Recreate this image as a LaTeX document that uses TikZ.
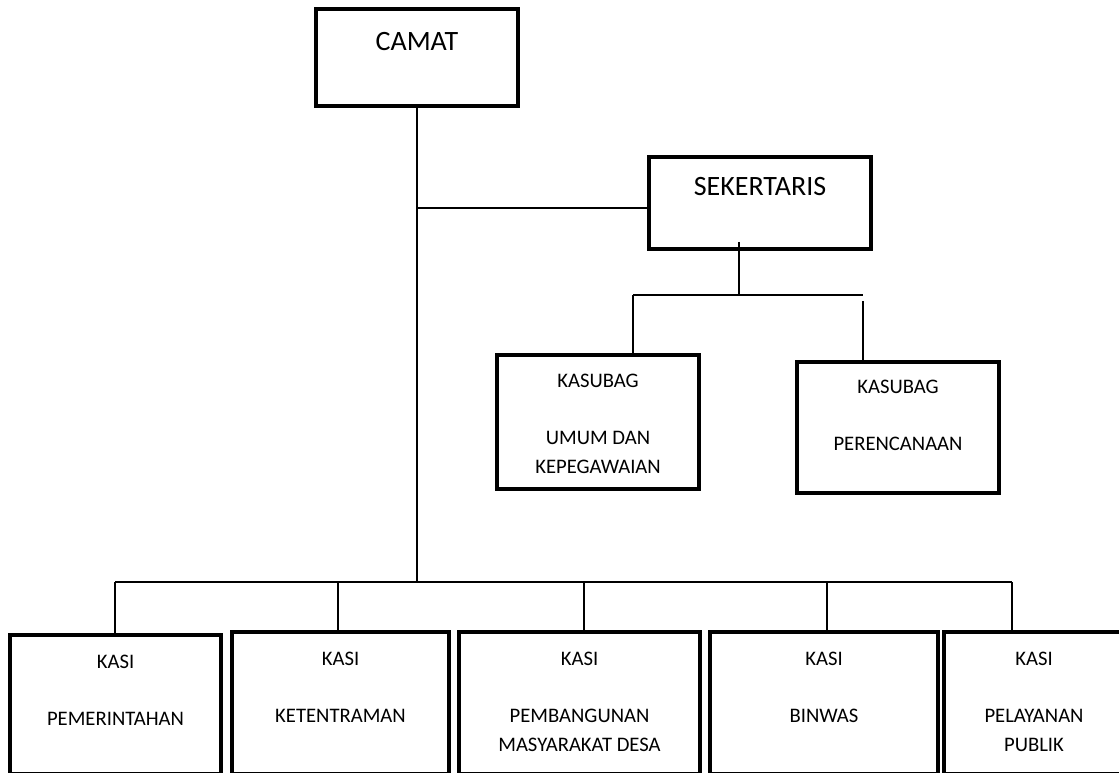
\documentclass[tikz,border=0pt]{standalone}
\usepackage{fontspec}
\setmainfont{Carlito}
\usetikzlibrary{positioning}

\begin{document}
\begin{tikzpicture}[
    x=0.75pt, y=-0.75pt, node distance=16.5pt,
    unit/.style={draw, rectangle, line width=3.2pt, inner sep=0pt},
    bigtxt/.style={inner sep=0pt, outer sep=0pt,
                   font=\fontsize{21}{26}\selectfont},
    smalltxt/.style={inner sep=0pt, outer sep=0pt, align=center,
                     font=\fontsize{15.5}{22}\selectfont},
    link/.style={line width=1.2pt}
  ]
  \useasboundingbox (0,0) rectangle (1119,773);
  \clip (0,0) rectangle (1119,773);

  % camat and sekertaris
  \node[unit, minimum width=151.3pt, minimum height=72.5pt] (camat) at (417,57.5) {};
  \node[bigtxt, below=18.75pt of camat.north] (camatlbl) {CAMAT};
  \node[unit, minimum width=166.3pt, minimum height=68.8pt] (sekr) at (760,203) {};
  \node[bigtxt, below=of sekr.north] (sekrlbl) {SEKERTARIS};

  % kasubag
  \node[unit, minimum width=151.3pt, minimum height=100.3pt] (umum) at (598,422) {};
  \node[smalltxt, below=15.75pt of umum.north] (umumlbl)
    {KASUBAG\\[20.5pt]UMUM DAN\\KEPEGAWAIAN};
  \node[unit, minimum width=151.3pt, minimum height=98pt] (renc) at (898,427.5) {};
  \node[smalltxt, below=15pt of renc.north] (renclbl)
    {KASUBAG\\[20.5pt]PERENCANAAN};

  % kasi row
  \node[unit, minimum width=158pt, minimum height=104.6pt] (pem) at (115.5,704.85) {};
  \node[smalltxt, below=of pem.north] (pemlbl) {KASI\\[20.5pt]PEMERINTAHAN};
  \node[unit, minimum width=162.5pt, minimum height=106.8pt] (tram) at (340.5,703.35) {};
  \node[smalltxt, below=of tram.north] (tramlbl) {KASI\\[20.5pt]KETENTRAMAN};
  \node[unit, minimum width=180.5pt, minimum height=106.8pt] (bang) at (579.5,703.35) {};
  \node[smalltxt, below=of bang.north] (banglbl)
    {KASI\\[20.5pt]PEMBANGUNAN\\MASYARAKAT DESA};
  \node[unit, minimum width=170.8pt, minimum height=106.8pt] (binw) at (824,703.35) {};
  \node[smalltxt, below=of binw.north] (binwlbl) {KASI\\[20.5pt]BINWAS};
  \node[unit, minimum width=134.8pt, minimum height=106.8pt] (lay) at (1034,703.35) {};
  \node[smalltxt, below=of lay.north] (laylbl) {KASI\\[20.5pt]PELAYANAN\\PUBLIK};

  % lines
  \coordinate (trunkend) at (417,582);
  \coordinate (sekrin) at ([yshift=-3.75pt]sekr.west);
  \coordinate (sekrtap) at (739,242);
  \coordinate (subjoin) at (739,295);
  \coordinate (subleft) at (633,295);
  \coordinate (subright) at (863,295);
  \coordinate (rowleft) at (115,582);
  \coordinate (rowright) at (1012,582);

  \draw[link] (camat.south) -- (trunkend);
  \draw[link] (camat.south |- sekrin) -- (sekrin);
  \draw[link] (sekrtap) -- (subjoin);
  \draw[link] (subleft) -- (subright);
  \draw[link] (subleft) -- (subleft |- umum.north);
  \draw[link] ([yshift=-4.5pt]subright) -- (subright |- renc.north);
  \draw[link] (rowleft) -- (rowright);
  \foreach \dx/\kasi in {115/pem, 338/tram, 584/bang, 827/binw, 1012/lay}
    \draw[link] (\dx,582) -- (\dx,582 |- \kasi.north);
\end{tikzpicture}
\end{document}
